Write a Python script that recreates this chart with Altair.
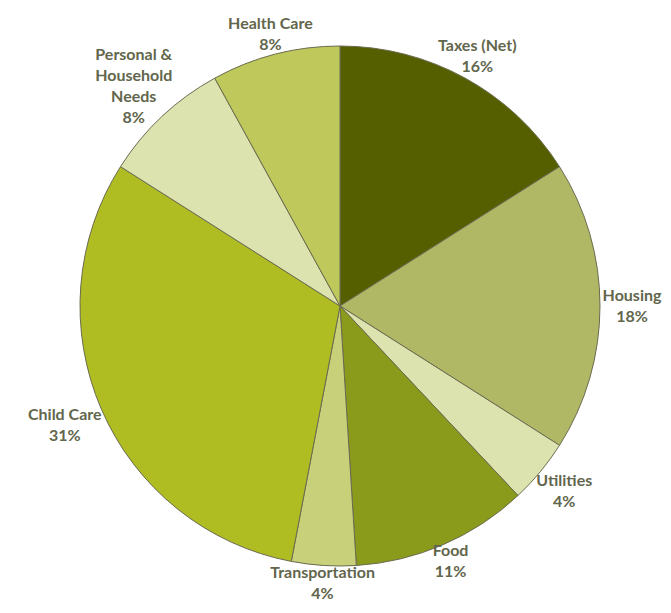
import altair as alt
import pandas as pd

categories = ["Taxes (Net)", "Housing", "Utilities", "Food", "Transportation",
              "Child Care", "Personal & Household Needs", "Health Care"]
labels = ["Taxes (Net)\n16%", "Housing\n18%", "Utilities\n4%", "Food\n11%",
          "Transportation\n4%", "Child Care\n31%", "Personal &\nHousehold\nNeeds\n8%",
          "Health Care\n8%"]
values = [16, 18, 4, 11, 4, 31, 8, 8]
colors = ["#555F00", "#B0B865", "#DDE3AF", "#8A9A1A", "#C8D07A", "#AFBC22", "#DDE3AF", "#BFC85A"]

df = pd.DataFrame({
    "category": categories,
    "label": labels,
    "value": values,
    "order": list(range(len(categories))),
})
# text metrics used for placing labels just outside the pie
df["nlines"] = [len(l.split("\n")) for l in labels]
df["maxlen"] = [max(len(s) for s in l.split("\n")) for l in labels]

cx, cy = 332, 298
R = 260
LH = 21
CHARW = 8.0
GAP = 4

theta_scale = alt.Scale(domain=[0, 100])

base = alt.Chart(df).transform_window(
    end="sum(value)", sort=[alt.SortField("order")], frame=[None, 0]
).transform_calculate(
    start="datum.end - datum.value",
    mid="datum.end - datum.value / 2",
    lines="split(datum.label, '\\n')",
    off=f"-(datum.nlines - 1) * {LH / 2}",
).transform_calculate(
    ang="datum.mid / 100 * 2 * PI",
).transform_calculate(
    rad=(f"{R + GAP} + datum.maxlen * {CHARW / 2} * pow(sin(datum.ang), 2)"
         f" + (datum.nlines * {LH / 2} - 7) * pow(cos(datum.ang), 2)"),
)

pie = base.mark_arc(stroke="#6B6B50", strokeWidth=1).encode(
    x=alt.value(cx), y=alt.value(cy),
    theta=alt.Theta("start:Q", scale=theta_scale),
    theta2="end:Q",
    radius=alt.value(R),
    color=alt.Color("category:N", scale=alt.Scale(domain=categories, range=colors), legend=None),
)

text = base.mark_text(font="Lato", fontSize=16, fontWeight="bold", color="#62664C",
                      lineHeight=LH, align="center", baseline="middle").encode(
    x=alt.value(cx), y=alt.value(cy),
    theta=alt.Theta("mid:Q", scale=theta_scale),
    radius=alt.Radius("rad:Q", scale=None),
    yOffset=alt.YOffset("off:Q", scale=None),
    text="lines:N",
)

chart = (pie + text).properties(
    width=655, height=597, padding=0,
    autosize=alt.AutoSizeParams(type="none"),
).configure_view(stroke=None)

chart.save("out.html", embed_options={"renderer": "svg", "actions": False})
